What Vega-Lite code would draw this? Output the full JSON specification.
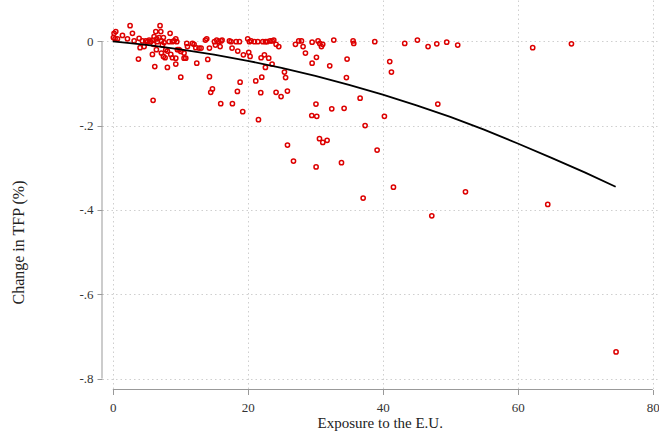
{
  "$schema": "https://vega.github.io/schema/vega-lite/v6.json",
  "width": 555.5,
  "height": 389.5,
  "autosize": "none",
  "padding": {"left": 102, "top": 0, "right": 1.5, "bottom": 42.5},
  "background": "white",
  "config": {
    "view": {"stroke": null},
    "font": "Liberation Serif",
    "axis": {
      "labelFont": "Liberation Serif",
      "titleFont": "Liberation Serif",
      "labelFontSize": 13,
      "titleFontSize": 16,
      "titleFontWeight": "normal",
      "labelColor": "#333",
      "titleColor": "#222",
      "domain": false,
      "tickColor": "#999",
      "tickSize": 5,
      "gridColor": "#cfcfcf",
      "gridDash": [1.5, 3],
      "gridWidth": 1
    }
  },
  "datasets": {
    "pts": [
      {"x":0.19,"y":0.019},{"x":0.44,"y":0.023},{"x":0.09,"y":0.009},{"x":0.34,"y":0.006},{"x":0.69,"y":0.006},{"x":1.43,"y":0.014},{"x":2.17,"y":0.006},{"x":2.56,"y":0.037},{"x":2.91,"y":0.019},{"x":3.16,"y":0.001},{"x":3.9,"y":0.007},{"x":4.04,"y":-0.015},{"x":3.8,"y":-0.042},{"x":4.39,"y":0.001},{"x":4.64,"y":-0.0125},{"x":4.88,"y":0.001},{"x":5.13,"y":-0.001},{"x":5.38,"y":0.003},{"x":5.62,"y":-0.001},{"x":5.87,"y":0.003},{"x":6.02,"y":-0.007},{"x":6.12,"y":0.011},{"x":6.37,"y":0.023},{"x":6.51,"y":0.006},{"x":6.61,"y":-0.001},{"x":6.86,"y":0.009},{"x":7.0,"y":0.037},{"x":7.11,"y":0.023},{"x":7.2,"y":0.001},{"x":7.35,"y":-0.009},{"x":7.5,"y":0.009},{"x":7.6,"y":-0.003},{"x":7.85,"y":-0.02},{"x":8.09,"y":-0.023},{"x":8.34,"y":-0.001},{"x":8.49,"y":0.019},{"x":8.83,"y":-0.001},{"x":9.08,"y":0.001},{"x":9.33,"y":0.006},{"x":9.48,"y":-0.001},{"x":9.57,"y":-0.02},{"x":9.82,"y":-0.02},{"x":10.07,"y":-0.024},{"x":10.56,"y":-0.028},{"x":10.96,"y":-0.005},{"x":11.06,"y":-0.0125},{"x":11.8,"y":-0.005},{"x":12.04,"y":-0.007},{"x":12.29,"y":-0.015},{"x":12.78,"y":-0.016},{"x":5.87,"y":-0.031},{"x":6.46,"y":-0.02},{"x":7.2,"y":-0.028},{"x":7.5,"y":-0.036},{"x":7.75,"y":-0.039},{"x":8.59,"y":-0.031},{"x":8.83,"y":-0.039},{"x":9.33,"y":-0.04},{"x":9.33,"y":-0.054},{"x":10.56,"y":-0.04},{"x":10.81,"y":-0.04},{"x":12.44,"y":-0.052},{"x":6.22,"y":-0.06},{"x":8.09,"y":-0.062},{"x":10.07,"y":-0.085},
      {"x":5.97,"y":-0.14},
      {"x":13.08,"y":-0.016},{"x":13.72,"y":0.003},{"x":13.92,"y":0.006},{"x":14.32,"y":-0.016},{"x":15.06,"y":-0.001},{"x":15.2,"y":-0.009},{"x":15.4,"y":0.003},{"x":15.7,"y":-0.001},{"x":15.9,"y":-0.0125},{"x":16.04,"y":0.001},{"x":16.19,"y":0.003},{"x":17.28,"y":0.001},{"x":17.52,"y":-0.001},{"x":17.67,"y":-0.016},{"x":18.27,"y":-0.001},{"x":18.51,"y":-0.023},{"x":18.76,"y":-0.001},{"x":19.35,"y":-0.032},{"x":19.99,"y":0.006},{"x":20.14,"y":-0.026},{"x":20.24,"y":-0.001},{"x":20.49,"y":0.001},{"x":20.34,"y":-0.036},{"x":20.98,"y":-0.001},{"x":21.48,"y":-0.001},{"x":21.97,"y":-0.039},{"x":22.22,"y":-0.001},{"x":22.46,"y":-0.032},{"x":22.61,"y":-0.001},{"x":22.86,"y":-0.001},{"x":23.1,"y":-0.04},{"x":23.3,"y":0.001},{"x":23.6,"y":0.001},{"x":23.85,"y":0.003},{"x":24.19,"y":-0.007},{"x":24.59,"y":-0.0125},{"x":25.43,"y":-0.073},{"x":22.61,"y":-0.062},{"x":23.6,"y":-0.054},{"x":14.07,"y":-0.043},{"x":14.32,"y":-0.084},{"x":22.07,"y":-0.085},{"x":25.6,"y":-0.086},{"x":27.06,"y":-0.007},
      {"x":27.55,"y":0.001},{"x":27.95,"y":0.001},{"x":28.19,"y":-0.0125},{"x":28.54,"y":-0.028},{"x":29.53,"y":-0.002},{"x":29.53,"y":-0.052},{"x":30.17,"y":-0.038},{"x":30.41,"y":0.001},{"x":30.66,"y":-0.005},{"x":30.91,"y":-0.0125},{"x":31.1,"y":-0.007},{"x":32.14,"y":-0.058},{"x":32.74,"y":0.003},{"x":34.71,"y":-0.042},{"x":34.61,"y":-0.086},{"x":35.6,"y":0.001},{"x":35.7,"y":-0.005},{"x":38.81,"y":-0.001},{"x":41.03,"y":-0.048},{"x":41.28,"y":-0.073},
      {"x":43.25,"y":-0.005},{"x":45.13,"y":0.003},{"x":46.71,"y":-0.0125},{"x":48.0,"y":-0.006},{"x":49.47,"y":-0.002},{"x":51.1,"y":-0.009},{"x":48.15,"y":-0.149},{"x":40.24,"y":-0.178},{"x":37.38,"y":-0.2},{"x":24.19,"y":-0.121},{"x":24.93,"y":-0.131},{"x":25.87,"y":-0.118},{"x":36.64,"y":-0.135},{"x":30.1,"y":-0.149},{"x":29.48,"y":-0.176},{"x":30.22,"y":-0.178},{"x":32.44,"y":-0.16},{"x":34.27,"y":-0.159},
      {"x":14.76,"y":-0.113},{"x":14.51,"y":-0.121},{"x":15.99,"y":-0.148},{"x":17.72,"y":-0.148},{"x":18.46,"y":-0.119},{"x":18.86,"y":-0.097},{"x":19.25,"y":-0.167},{"x":21.18,"y":-0.094},{"x":21.92,"y":-0.122},{"x":21.58,"y":-0.186},
      {"x":25.88,"y":-0.246},{"x":26.77,"y":-0.284},{"x":30.62,"y":-0.231},{"x":31.11,"y":-0.24},{"x":31.75,"y":-0.235},{"x":30.12,"y":-0.298},{"x":33.88,"y":-0.288},{"x":39.16,"y":-0.258},{"x":41.58,"y":-0.346},{"x":37.09,"y":-0.372},
      {"x":47.26,"y":-0.414},{"x":52.25,"y":-0.357},{"x":64.44,"y":-0.387},
      {"x":62.21,"y":-0.015},{"x":67.95,"y":-0.006},
      {"x":74.56,"y":-0.737}
    ],
    "fit": [
      {"x":0,"y":0.0},{"x":5,"y":-0.0084},{"x":10,"y":-0.0189},{"x":15,"y":-0.0315},{"x":20,"y":-0.0462},{"x":25,"y":-0.0631},{"x":30,"y":-0.0821},{"x":35,"y":-0.1032},{"x":40,"y":-0.1265},{"x":45,"y":-0.1519},{"x":50,"y":-0.1794},{"x":55,"y":-0.2095},{"x":60,"y":-0.2425},{"x":65,"y":-0.2765},{"x":70,"y":-0.3115},{"x":74.5,"y":-0.345}
    ]
  },
  "layer": [
    {
      "data": {"name": "pts"},
      "mark": {"type": "point", "shape": "circle", "filled": false, "color": "#dd0000", "size": 18, "strokeWidth": 1.5, "opacity": 1},
      "encoding": {
        "x": {
          "field": "x", "type": "quantitative",
          "scale": {"domain": [-1.6, 80.7], "nice": false, "zero": false},
          "axis": {"values": [0, 20, 40, 60, 80], "title": "Exposure to the E.U.", "labelPadding": 7, "titlePadding": 1, "titleFontSize": 15}
        },
        "y": {
          "field": "y", "type": "quantitative",
          "scale": {"domain": [-0.826, 0.098], "nice": false, "zero": false},
          "axis": {"values": [0, -0.2, -0.4, -0.6, -0.8], "title": "Change in TFP (%)", "labelExpr": "datum.value == 0 ? '0' : '-.' + round(-datum.value * 10)", "labelPadding": 4, "titleX": -84, "titleY": 242, "titleAngle": 270, "titleAlign": "center", "titleBaseline": "middle"}
        }
      }
    },
    {
      "data": {"name": "fit"},
      "mark": {"type": "line", "color": "#000", "strokeWidth": 1.8},
      "encoding": {
        "x": {"field": "x", "type": "quantitative"},
        "y": {"field": "y", "type": "quantitative"}
      }
    },
    {
      "data": {"values": [{}]},
      "mark": {"type": "rule", "color": "#999", "strokeWidth": 1},
      "encoding": {
        "x": {"datum": -1.6, "type": "quantitative"},
        "y": {"datum": 0, "type": "quantitative"},
        "y2": {"datum": -0.8}
      }
    },
    {
      "data": {"values": [{}]},
      "mark": {"type": "rule", "color": "#999", "strokeWidth": 1},
      "encoding": {
        "y": {"datum": -0.826, "type": "quantitative"},
        "x": {"datum": 0, "type": "quantitative"},
        "x2": {"datum": 80}
      }
    }
  ]
}
